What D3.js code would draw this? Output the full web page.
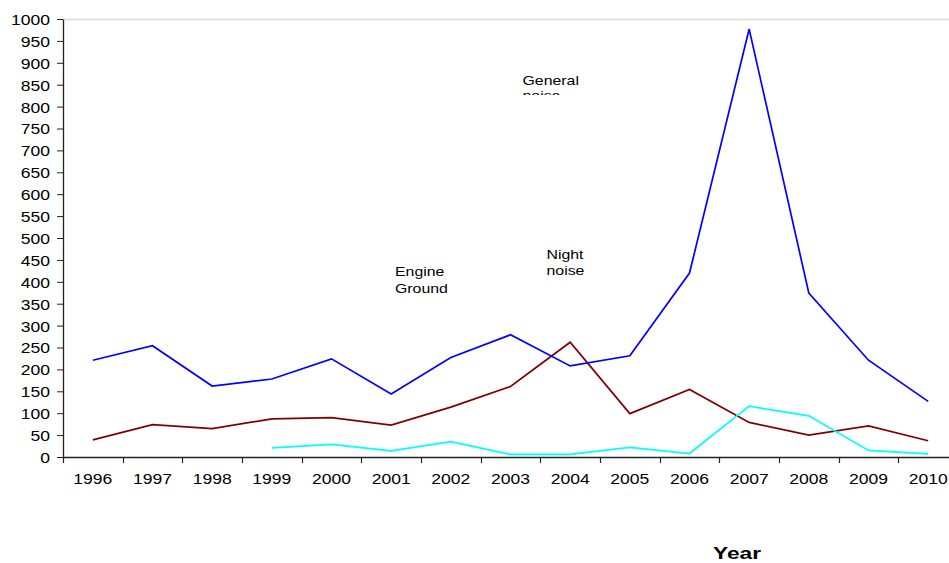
<!DOCTYPE html>
<html><head><meta charset="utf-8">
<script src="https://cdn.jsdelivr.net/npm/d3@7"></script>
<style>body{margin:0;background:#fff;overflow:hidden}svg{display:block}text{font-family:"Liberation Sans",Arial,sans-serif;fill:#000}</style>
</head><body>
<svg id="c" width="949" height="563"></svg>
<script>
const years = ["1996","1997","1998","1999","2000","2001","2002","2003","2004","2005","2006","2007","2008","2009","2010"];
const generalNoise = [221,254,162,178,224,144,227,279,208,231,420,977,374,221,127];
const engineGround = [39,74,65,87,90,73,114,161,262,99,154,79,50,71,37];
const nightNoise = [null,null,null,21,29,14,35,6,6,22,8,116,94,15,7];
const yTicks = [0,50,100,150,200,250,300,350,400,450,500,550,600,650,700,750,800,850,900,950,1000];

(function(){
const svg = d3.select("#c");
const mLeft = 63, mTop = 19, mBottom = 457, mRight = 958;
const x = d3.scaleBand().domain(years).range([mLeft, mRight]).padding(0);
const y = d3.scaleLinear().domain([0,1000]).range([mBottom, mTop]);
const SX = 1.17;
const FF = '"Liberation Sans",Arial,sans-serif';

// top border of plot area
svg.append("line").attr("x1", mLeft).attr("x2", 949).attr("y1", mTop+0.5).attr("y2", mTop+0.5)
  .attr("stroke", "#d9d9d9").attr("stroke-width", 1.5);

// y axis
const ya = svg.append("g").attr("transform", `translate(${mLeft},0)`)
  .call(d3.axisLeft(y).tickValues(yTicks).tickFormat(d3.format("d")).tickSize(6).tickSizeOuter(0));
ya.select(".domain").attr("stroke", "#222").attr("stroke-width", 1.3);
ya.selectAll(".tick line").attr("stroke", "#222");
ya.selectAll(".tick text").attr("font-size", 15).attr("font-family", FF)
  .attr("x", -13/SX).attr("transform", `scale(${SX},1)`).attr("dy", "0.36em");

// x axis
const xa = svg.append("g").attr("transform", `translate(0,${mBottom})`)
  .call(d3.axisBottom(x).tickSize(0).tickSizeOuter(0));
xa.select(".domain").attr("stroke", "#222").attr("stroke-width", 1.3).attr("d", `M${mLeft},0.5H949`);
xa.selectAll(".tick line").remove();
xa.selectAll(".tick text").attr("font-size", 15.5).attr("font-family", FF)
  .attr("y", 27).attr("dy", 0).attr("x", 0)
  .attr("textLength", 39).attr("lengthAdjust", "spacingAndGlyphs");

// x tick marks at band boundaries
const bounds = years.map(d => x(d));
svg.append("g").selectAll("line").data(bounds).join("line")
  .attr("x1", d => Math.round(d)+0.5).attr("x2", d => Math.round(d)+0.5)
  .attr("y1", mBottom).attr("y2", mBottom+6).attr("stroke", "#222").attr("stroke-width", 1.2);

// lines
const cx = d => x(d) + x.bandwidth()/2;
const series = [
  {vals: engineGround, color: "#800000"},
  {vals: nightNoise, color: "#00ffff"},
  {vals: generalNoise, color: "#0000ff"}
];
const line = d3.line().defined(d => d.v != null).x(d => cx(d.year)).y(d => y(d.v));
series.forEach(s => {
  svg.append("path").datum(years.map((yr,i) => ({year: yr, v: s.vals[i]})))
    .attr("d", line).attr("fill", "none").attr("stroke", s.color).attr("stroke-width", 1.7)
    .attr("stroke-linejoin", "miter");
});

// annotations
function label(parent, lines, x0, y0, lh) {
  const t = parent.append("text").attr("font-size", 13).attr("transform", `translate(${x0},${y0}) scale(1.22,1)`);
  lines.forEach((l,i) => t.append("tspan").attr("x", 0).attr("y", i*lh).text(l));
  return t;
}
svg.append("defs").append("clipPath").attr("id", "gclip")
  .append("rect").attr("x", 500).attr("y", 60).attr("width", 120).attr("height", 35);
const g1 = svg.append("g").attr("clip-path", "url(#gclip)");
label(g1, ["General","noise"], 522.5, 84.5, 16);
label(svg, ["Engine","Ground"], 395, 276, 17);
label(svg, ["Night","noise"], 546.5, 258.5, 16.5);

// axis title
svg.append("text").attr("x", 713).attr("y", 559).attr("font-size", 17).attr("font-weight", "bold")
  .attr("textLength", 48).attr("lengthAdjust", "spacingAndGlyphs").text("Year");
})();
</script>
</body></html>
